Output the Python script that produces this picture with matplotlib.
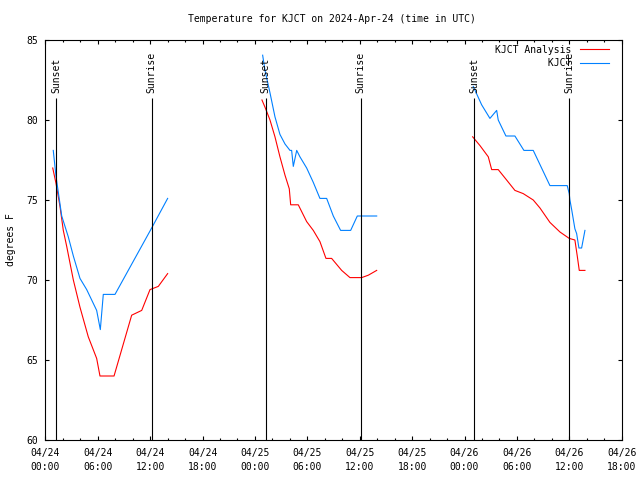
import matplotlib
matplotlib.use("Agg")
import matplotlib.pyplot as plt
import numpy as np

TITLE = "Temperature for KJCT on 2024-Apr-24 (time in UTC)"
YLABEL = "degrees F"
SERIES_NAMES = ["KJCT Analysis", "KJCT"]

# hours since 2024-04-24 00:00 UTC
analysis_night1_hours = [0.84, 1.21, 1.67, 2.05, 2.44, 3.20, 3.96, 4.91, 5.87, 6.25, 7.86, 9.88, 11.03, 11.98, 12.93, 14.00]
analysis_night1_temps = [77.0, 76.05, 74.6, 73.1, 72.1, 70.0, 68.3, 66.45, 65.1, 64.0, 64.0, 67.8, 68.1, 69.4, 69.6, 70.4]
analysis_night2_hours = [24.80, 25.15, 25.72, 26.29, 26.86, 27.44, 27.93, 28.09, 28.96, 29.92, 30.68, 31.44, 32.13, 32.78, 33.93, 34.88, 36.22, 36.98, 37.94]
analysis_night2_temps = [81.25, 80.8, 80.0, 78.95, 77.7, 76.55, 75.7, 74.7, 74.7, 73.65, 73.1, 72.4, 71.35, 71.35, 70.6, 70.15, 70.15, 70.3, 70.6]
analysis_night3_hours = [48.93, 49.77, 50.72, 51.11, 51.86, 52.82, 53.77, 54.72, 55.87, 56.64, 57.78, 58.93, 59.99, 60.64, 60.91, 61.14, 61.79]
analysis_night3_temps = [78.95, 78.4, 77.7, 76.9, 76.9, 76.25, 75.6, 75.4, 75.0, 74.5, 73.6, 73.0, 72.6, 72.5, 71.5, 70.6, 70.6]

obs_night1_hours = [0.90, 1.21, 1.87, 2.62, 3.20, 3.96, 4.73, 5.87, 6.29, 6.63, 7.97, 12.17, 14.00]
obs_night1_temps = [78.1, 76.5, 74.0, 72.7, 71.5, 70.1, 69.4, 68.1, 66.9, 69.1, 69.1, 73.25, 75.1]
obs_night2_hours = [24.88, 25.15, 25.72, 26.29, 26.86, 27.44, 28.01, 28.20, 28.39, 28.78, 29.15, 29.92, 30.68, 31.44, 32.21, 32.97, 33.81, 34.96, 35.72, 37.94]
obs_night2_temps = [84.05, 83.1, 81.7, 80.2, 79.1, 78.5, 78.1, 78.1, 77.1, 78.1, 77.7, 77.0, 76.1, 75.1, 75.1, 74.0, 73.1, 73.1, 74.0, 74.0]
obs_night3_hours = [49.00, 49.96, 50.91, 51.68, 51.86, 52.74, 53.77, 54.80, 55.87, 57.78, 59.76, 59.99, 60.07, 60.27, 60.64, 60.84, 61.10, 61.41, 61.79]
obs_night3_temps = [82.1, 80.95, 80.1, 80.6, 80.0, 79.0, 79.0, 78.1, 78.1, 75.9, 75.9, 75.4, 75.0, 74.4, 73.2, 72.9, 72.0, 72.0, 73.1]

sunset_hours = [1.21, 25.23, 49.13]
sunrise_hours = [12.17, 36.12, 60.02]

xtick_hours = [0, 6, 12, 18, 24, 30, 36, 42, 48, 54, 60, 66]
xtick_labels = ["04/24\n00:00", "04/24\n06:00", "04/24\n12:00", "04/24\n18:00",
                "04/25\n00:00", "04/25\n06:00", "04/25\n12:00", "04/25\n18:00",
                "04/26\n00:00", "04/26\n06:00", "04/26\n12:00", "04/26\n18:00"]
ytick_values = [60, 65, 70, 75, 80, 85]

FONT = "DejaVu Sans Mono"
FS = 7
RED = "#ff0000"
BLUE = "#0080ff"

def join(parts):
    out = []
    for i, p in enumerate(parts):
        if i:
            out.append(np.nan)
        out.extend(p)
    return np.array(out, dtype=float)

ana_h = join([analysis_night1_hours, analysis_night2_hours, analysis_night3_hours])
ana_t = join([analysis_night1_temps, analysis_night2_temps, analysis_night3_temps])
obs_h = join([obs_night1_hours, obs_night2_hours, obs_night3_hours])
obs_t = join([obs_night1_temps, obs_night2_temps, obs_night3_temps])

plt.rcParams["font.family"] = [FONT]
fig = plt.figure(figsize=(6.4, 4.8), dpi=100)
ax = fig.add_axes([45.4 / 640, 40 / 480, 576.3 / 640, 400 / 480])

ax.plot(ana_h, ana_t, color=RED, lw=0.8, label=SERIES_NAMES[0].rjust(13))
ax.plot(obs_h, obs_t, color=BLUE, lw=0.8, label=SERIES_NAMES[1].rjust(13))

for h in sunset_hours:
    ax.vlines(h, 60, 81.4, color="black", lw=0.8)
    ax.text(h, 81.7, "Sunset", rotation=90, ha="center", va="bottom", fontsize=FS)
for h in sunrise_hours:
    ax.vlines(h, 60, 81.4, color="black", lw=0.8)
    ax.text(h, 81.7, "Sunrise", rotation=90, ha="center", va="bottom", fontsize=FS)

ax.set_xlim(0, 66)
ax.set_ylim(60, 85)
ax.set_xticks(xtick_hours)
ax.set_xticklabels(xtick_labels, fontsize=FS, linespacing=1.5)
ax.set_xticks(np.arange(0, 67, 2), minor=True)
ax.set_yticks(ytick_values)
ax.set_yticklabels([str(v) for v in ytick_values], fontsize=FS)
ax.tick_params(which="both", direction="in", top=True, right=True, width=0.8)
ax.tick_params(axis="x", which="major", length=3.2, pad=6)
ax.tick_params(axis="x", which="minor", length=1.7)
ax.tick_params(axis="y", which="major", length=3.2, pad=5)
for s in ax.spines.values():
    s.set_linewidth(0.8)

ax.set_ylabel(YLABEL, fontsize=FS)
ax.yaxis.set_label_coords(-0.051, 0.5)

fig.text(332 / 640, 1 - 19 / 480, TITLE, ha="center", va="center", fontsize=FS)

leg = ax.legend(loc="upper right", bbox_to_anchor=(0.9785, 0.988), frameon=False,
                markerfirst=False, fontsize=FS, handlelength=3.0, handletextpad=0.9,
                labelspacing=0.35, borderaxespad=0, borderpad=0)

fig.savefig("out.png", dpi=100)
